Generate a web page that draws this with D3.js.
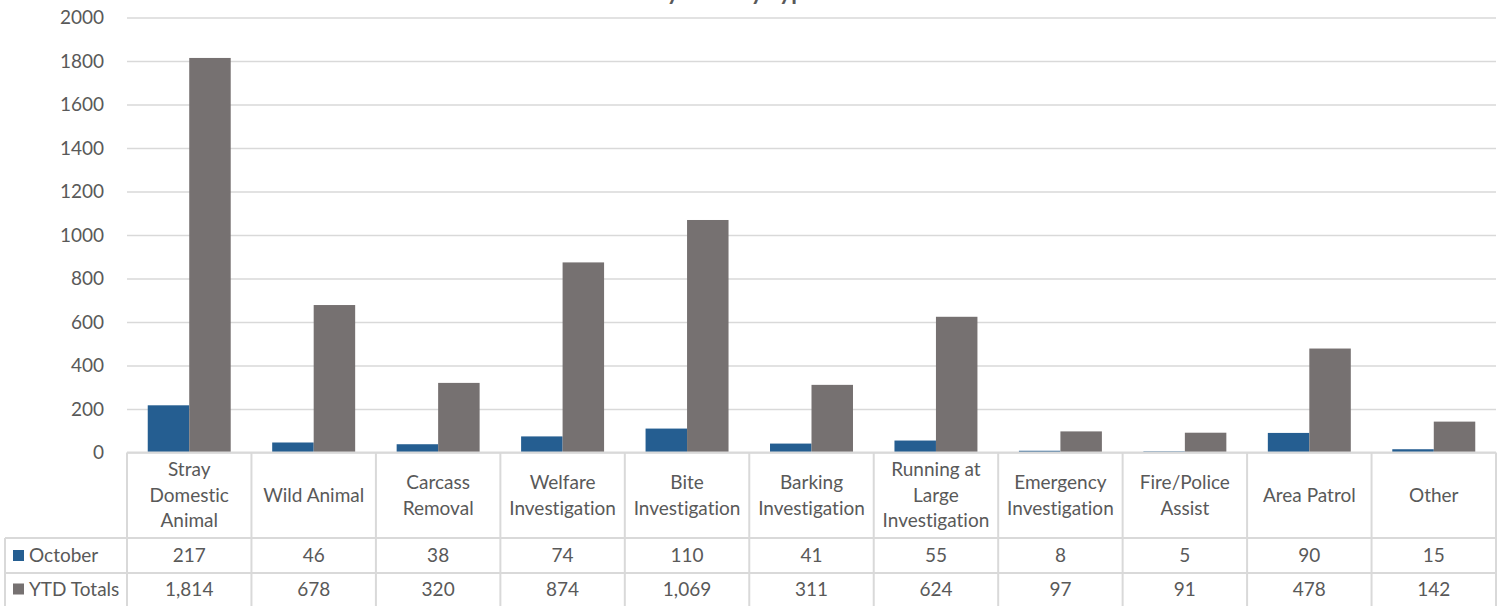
<!DOCTYPE html>
<html>
<head>
<meta charset="utf-8">
<script src="https://cdn.jsdelivr.net/npm/d3@7"></script>
<style>
  html, body { margin: 0; padding: 0; background: #fff; }
  svg { display: block; }
  text { font-family: Lato, "Open Sans", sans-serif; fill: #595959; font-variant-ligatures: none; }
</style>
</head>
<body>
<svg id="chart" width="1501" height="606"></svg>
<script>
// ---- data ----
const title = "Calls by Activity Type";
const categories = ["Stray Domestic Animal", "Wild Animal", "Carcass Removal", "Welfare Investigation",
  "Bite Investigation", "Barking Investigation", "Running at Large Investigation",
  "Emergency Investigation", "Fire/Police Assist", "Area Patrol", "Other"];
const categoryLines = [["Stray", "Domestic", "Animal"], ["Wild Animal"], ["Carcass", "Removal"],
  ["Welfare", "Investigation"], ["Bite", "Investigation"], ["Barking", "Investigation"],
  ["Running at", "Large", "Investigation"], ["Emergency", "Investigation"],
  ["Fire/Police", "Assist"], ["Area Patrol"], ["Other"]];
const seriesNames = ["October", "YTD Totals"];
const october = [217, 46, 38, 74, 110, 41, 55, 8, 5, 90, 15];
const ytdTotals = [1814, 678, 320, 874, 1069, 311, 624, 97, 91, 478, 142];
const yTicks = [0, 200, 400, 600, 800, 1000, 1200, 1400, 1600, 1800, 2000];

// ---- layout ----
const colors = ["#255E91", "#767171"];
const gridColor = "#d9d9d9";
const plotLeft = 127, plotRight = 1496, plotTop = 17.5, plotBottom = 452.5;
const rowLabelBottom = 538, rowOctBottom = 573, rowYtdBottom = 608;
const tableLeft = 5;
const fontSize = 19;

const svg = d3.select("#chart");
const series = [october, ytdTotals];

const x = d3.scaleBand().domain(categories).range([plotLeft, plotRight]).paddingInner(0).paddingOuter(0);
const x1 = d3.scaleBand().domain(seriesNames).range([0, x.bandwidth()]).paddingInner(0).paddingOuter(0.5);
const y = d3.scaleLinear().domain([0, 2000]).range([plotBottom, plotTop]);

// title (clipped at top, as in the reference)
svg.append("text")
  .attr("x", 600).attr("y", 0)
  .attr("font-size", 23).attr("font-weight", "bold")
  .style("fill", "#595959")
  .text(title);

// gridlines + y axis labels
const yAxis = d3.axisLeft(y).tickValues(yTicks).tickSize(-(plotRight - plotLeft)).tickFormat(d3.format("d"));
const gy = svg.append("g").attr("transform", `translate(${plotLeft},0)`).call(yAxis);
gy.select(".domain").remove();
gy.selectAll(".tick line").attr("stroke", gridColor).attr("stroke-width", 1.5);
gy.selectAll(".tick text").attr("x", -23).attr("font-size", fontSize)
  .style("font-family", "Lato, 'Open Sans', sans-serif").style("fill", "#595959");

// bars
const groups = svg.append("g").selectAll("g")
  .data(categories).join("g")
  .attr("transform", d => `translate(${x(d)},0)`);
groups.selectAll("rect")
  .data((d, i) => seriesNames.map((s, k) => ({ s, v: series[k][i], k })))
  .join("rect")
  .attr("x", d => x1(d.s))
  .attr("width", x1.bandwidth())
  .attr("y", d => y(d.v))
  .attr("height", d => y(0) - y(d.v))
  .attr("fill", d => colors[d.k]);

// data table
const table = svg.append("g");
const lineAttr = sel => sel.attr("stroke", gridColor).attr("stroke-width", 2);
table.append("line").attr("x1", plotLeft).attr("x2", plotRight).attr("y1", plotBottom).attr("y2", plotBottom).call(lineAttr);
table.append("line").attr("x1", tableLeft).attr("x2", plotRight).attr("y1", rowLabelBottom).attr("y2", rowLabelBottom).call(lineAttr);
table.append("line").attr("x1", tableLeft).attr("x2", plotRight).attr("y1", rowOctBottom).attr("y2", rowOctBottom).call(lineAttr);
const vx = categories.map(c => x(c)).concat([plotRight]);
table.selectAll("line.v").data(vx).join("line").attr("class", "v")
  .attr("x1", d => d).attr("x2", d => d).attr("y1", plotBottom).attr("y2", rowYtdBottom).call(lineAttr);
table.append("line").attr("x1", tableLeft).attr("x2", tableLeft).attr("y1", rowLabelBottom).attr("y2", rowYtdBottom).call(lineAttr);

// category labels
const lh = 25.5;
const labelCenter = (plotBottom + rowLabelBottom) / 2;
categories.forEach((c, i) => {
  const lines = categoryLines[i];
  const cx = x(c) + x.bandwidth() / 2;
  const t = table.append("text").attr("text-anchor", "middle").attr("font-size", fontSize);
  lines.forEach((ln, j) => {
    t.append("tspan").attr("x", cx)
      .attr("y", labelCenter + (j - (lines.length - 1) / 2) * lh)
      .attr("dy", "0.35em").text(ln);
  });
});

// value rows
const rowCenters = [(rowLabelBottom + rowOctBottom) / 2, (rowOctBottom + rowYtdBottom) / 2 - 1.5];
const fmt = d3.format(",");
series.forEach((vals, k) => {
  table.selectAll(null).data(vals).join("text")
    .attr("x", (d, i) => x(categories[i]) + x.bandwidth() / 2)
    .attr("y", rowCenters[k]).attr("dy", "0.35em")
    .attr("text-anchor", "middle").attr("font-size", fontSize)
    .text(d => fmt(d));
  table.append("rect").attr("x", 13).attr("y", rowCenters[k] - 5.5).attr("width", 11).attr("height", 11)
    .attr("fill", colors[k]);
  table.append("text").attr("x", 29).attr("y", rowCenters[k]).attr("dy", "0.35em")
    .attr("font-size", fontSize).text(seriesNames[k]);
});
</script>
</body>
</html>
